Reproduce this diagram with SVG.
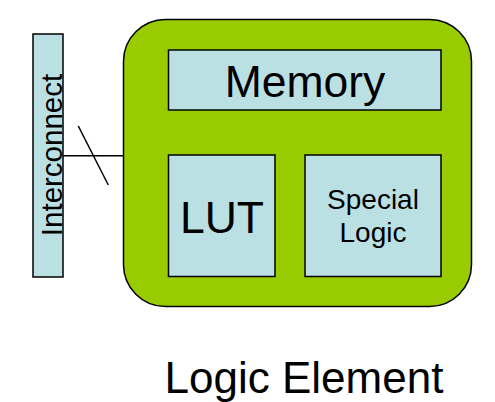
<svg xmlns="http://www.w3.org/2000/svg" width="495" height="402" viewBox="0 0 495 402">
<style>
.box{fill:#BBE0E3;stroke:#000;stroke-width:1.5}
.t{font-family:"Liberation Sans",Arial,sans-serif;fill:#000;text-anchor:middle}
.c{stroke:#000;stroke-width:1.5;fill:none}
</style>
<rect width="495" height="402" fill="#fff"/>
<g id="element">
<rect x="123.5" y="19.5" width="348" height="287" rx="42" ry="42" fill="#99CC00" stroke="#000" stroke-width="1.5"/>
</g>
<g id="interconnect">
<rect class="box" x="33" y="34" width="30" height="243"/>
<text class="t" font-size="29.5" transform="translate(61.5,155) rotate(-90)">Interconnect</text>
</g>
<g id="memory">
<rect class="box" x="168.5" y="50" width="272.5" height="60"/>
<text class="t" font-size="44.5" x="305" y="97">Memory</text>
</g>
<g id="lut">
<rect class="box" x="168.5" y="155" width="106.5" height="121.5"/>
<text class="t" font-size="44.5" x="222" y="232.5">LUT</text>
</g>
<g id="special">
<rect class="box" x="305" y="155" width="136" height="121.5"/>
<text class="t" font-size="28" x="373" y="209">Special</text>
<text class="t" font-size="28" x="373" y="241.5">Logic</text>
</g>
<g id="connectors">
<line class="c" x1="63" y1="155.7" x2="123.5" y2="155.7"/>
<line class="c" x1="78.3" y1="126" x2="108.3" y2="185"/>
</g>
<g id="caption">
<text class="t" font-size="44" x="304" y="393">Logic Element</text>
</g>
</svg>
